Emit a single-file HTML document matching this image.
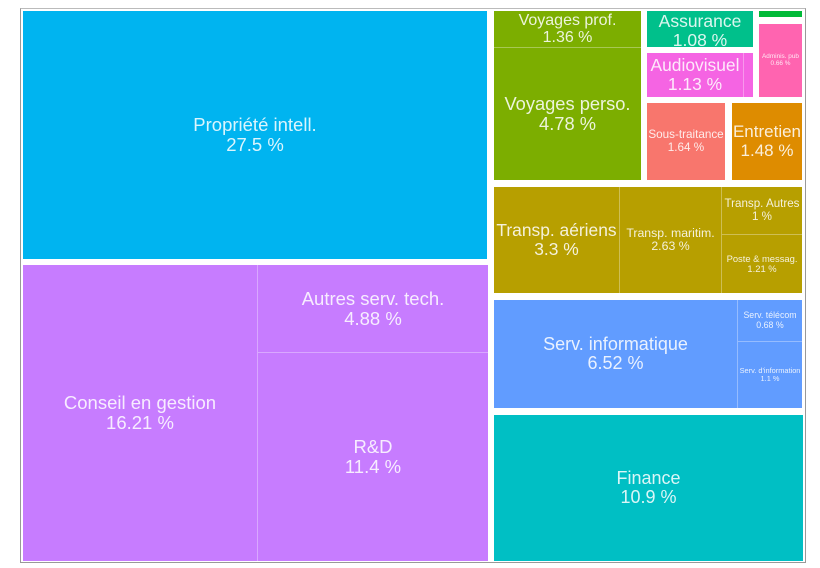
<!DOCTYPE html>
<html>
<head>
<meta charset="utf-8">
<style>
  html,body{margin:0;padding:0;background:#fff;}
  body{width:820px;height:568px;position:relative;overflow:hidden;font-family:"Liberation Sans",Arial,sans-serif;}
  .frame{position:absolute;left:20px;top:8px;width:786px;height:555px;box-sizing:border-box;border:1px solid #999;border-top-color:#bbb;}
  .r{position:absolute;}
  .t{position:absolute;display:flex;align-items:center;justify-content:center;text-align:center;overflow:hidden;white-space:nowrap;color:rgba(255,255,255,0.86);line-height:1.08;}
  .l{position:absolute;background:rgba(255,255,255,0.33);}
</style>
</head>
<body>
<div class="frame"></div>

<!-- Left column -->
<div class="r" style="left:23px;top:11px;width:464px;height:248px;background:#00B4F0;"></div>
<div class="t" style="left:23px;top:11px;width:464px;height:248px;font-size:18.5px;">Propriété intell.<br>27.5 %</div>

<div class="r" style="left:23px;top:265px;width:465px;height:296px;background:#C77CFF;"></div>
<div class="l" style="left:257px;top:265px;width:1px;height:296px;"></div>
<div class="l" style="left:258px;top:352px;width:230px;height:1px;"></div>
<div class="t" style="left:23px;top:265px;width:234px;height:296px;font-size:18.5px;">Conseil en gestion<br>16.21 %</div>
<div class="t" style="left:258px;top:265px;width:230px;height:87px;font-size:18.5px;">Autres serv. tech.<br>4.88 %</div>
<div class="t" style="left:258px;top:353px;width:230px;height:208px;font-size:18.5px;">R&amp;D<br>11.4 %</div>

<!-- Right top -->
<div class="r" style="left:494px;top:11px;width:147px;height:169px;background:#7CAE00;"></div>
<div class="l" style="left:494px;top:47px;width:147px;height:1px;"></div>
<div class="t" style="left:494px;top:11px;width:147px;height:36px;font-size:16px;">Voyages prof.<br>1.36 %</div>
<div class="t" style="left:494px;top:48px;width:147px;height:132px;font-size:18.3px;">Voyages perso.<br>4.78 %</div>

<div class="r" style="left:647px;top:11px;width:106px;height:36px;background:#00C08B;"></div>
<div class="t" style="left:647px;top:11px;width:106px;height:36px;font-size:17.5px;align-items:flex-start;padding-top:1px;box-sizing:border-box;">Assurance<br>1.08 %</div>

<div class="r" style="left:647px;top:53px;width:106px;height:44px;background:#F564E3;"></div>
<div class="l" style="left:743px;top:53px;width:1px;height:44px;"></div>
<div class="t" style="left:647px;top:53px;width:96px;height:44px;font-size:17.4px;">Audiovisuel<br>1.13 %</div>

<div class="r" style="left:759px;top:11px;width:43px;height:6px;background:#00BA38;"></div>
<div class="r" style="left:759px;top:24px;width:43px;height:73px;background:#FF64B0;"></div>
<div class="t" style="left:759px;top:24px;width:43px;height:73px;font-size:6.4px;">Adminis. pub<br>0.66 %</div>

<div class="r" style="left:647px;top:103px;width:78px;height:77px;background:#F8766D;"></div>
<div class="t" style="left:647px;top:103px;width:78px;height:77px;font-size:11.7px;">Sous-traitance<br>1.64 %</div>

<div class="r" style="left:732px;top:103px;width:70px;height:77px;background:#DE8C00;"></div>
<div class="t" style="left:732px;top:103px;width:70px;height:77px;font-size:17px;">Entretien<br>1.48 %</div>

<!-- Transport -->
<div class="r" style="left:494px;top:187px;width:308px;height:106px;background:#B79F00;"></div>
<div class="l" style="left:619px;top:187px;width:1px;height:106px;"></div>
<div class="l" style="left:721px;top:187px;width:1px;height:106px;"></div>
<div class="l" style="left:722px;top:234px;width:80px;height:1px;"></div>
<div class="t" style="left:494px;top:187px;width:125px;height:106px;font-size:17.4px;">Transp. aériens<br>3.3 %</div>
<div class="t" style="left:620px;top:187px;width:101px;height:106px;font-size:12.3px;">Transp. maritim.<br>2.63 %</div>
<div class="t" style="left:722px;top:187px;width:80px;height:47px;font-size:11.6px;">Transp. Autres<br>1 %</div>
<div class="t" style="left:722px;top:235px;width:80px;height:58px;font-size:9.4px;">Poste &amp; messag.<br>1.21 %</div>

<!-- Serv info -->
<div class="r" style="left:494px;top:300px;width:308px;height:108px;background:#619CFF;"></div>
<div class="l" style="left:737px;top:300px;width:1px;height:108px;"></div>
<div class="l" style="left:738px;top:341px;width:64px;height:1px;"></div>
<div class="t" style="left:494px;top:300px;width:243px;height:108px;font-size:18px;">Serv. informatique<br>6.52 %</div>
<div class="t" style="left:738px;top:300px;width:64px;height:41px;font-size:8.8px;">Serv. télécom<br>0.68 %</div>
<div class="t" style="left:738px;top:342px;width:64px;height:66px;font-size:7.4px;">Serv. d'information<br>1.1 %</div>

<!-- Finance -->
<div class="r" style="left:494px;top:415px;width:309px;height:146px;background:#00BFC4;"></div>
<div class="t" style="left:494px;top:415px;width:309px;height:146px;font-size:18px;">Finance<br>10.9 %</div>

</body>
</html>
